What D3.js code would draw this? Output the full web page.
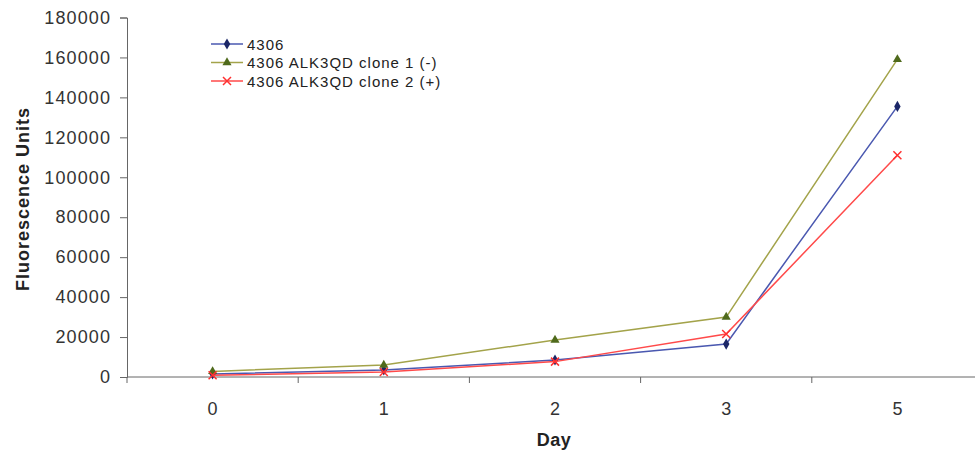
<!DOCTYPE html>
<html lang="en">
<head>
<meta charset="UTF-8">
<title>Fluorescence by Day</title>
<script src="https://d3js.org/d3.v7.min.js"></script>
<style>
    body { margin: 0; background: #ffffff; }
    svg { display: block; font-family: Arial, 'Liberation Sans', sans-serif; }
    .tick text { fill: #333; }
</style>
</head>
<body>
<svg id="chart" width="975" height="455"></svg>
<script>
    // chart data
    const days = ["0", "1", "2", "3", "5"];
    const parental = [1500, 3500, 8500, 16500, 135500];
    const clone1 = [2800, 6000, 18500, 30000, 159000];
    const clone2 = [900, 2500, 7700, 21500, 111000];
    const seriesNames = ["4306", "4306 ALK3QD clone 1 (-)", "4306 ALK3QD clone 2 (+)"];
    const yTicks = [0, 20000, 40000, 60000, 80000, 100000, 120000, 140000, 160000, 180000];

    const series = [
        { name: seriesNames[0], values: parental, line: "#4a58b0", mark: "#1c2768", shape: "diamond" },
        { name: seriesNames[1], values: clone1, line: "#a3a34a", mark: "#4f6a1c", shape: "triangle" },
        { name: seriesNames[2], values: clone2, line: "#ff4a4a", mark: "#ff3030", shape: "cross" }
    ];

    const svg = d3.select("#chart");
    const plotLeft = 127, plotRight = 983, plotTop = 17.5, plotBottom = 377;

    const x = d3.scaleBand().domain(days).range([plotLeft, plotRight]);
    const y = d3.scaleLinear().domain([0, 180000]).range([plotBottom, plotTop]);

    // y axis
    const yAxis = svg.append("g")
        .attr("transform", `translate(${plotLeft},0)`)
        .call(d3.axisLeft(y).tickValues(yTicks).tickFormat(d3.format("d")).tickSize(7).tickPadding(9));
    yAxis.selectAll("text").style("font-size", "18px").style("letter-spacing", "1.1px");
    yAxis.selectAll("line, path").attr("stroke", "#666");

    // x axis: ticks between categories
    const xAxis = svg.append("g").attr("transform", `translate(0,${plotBottom})`);
    xAxis.append("line").attr("x1", plotLeft).attr("x2", plotRight).attr("stroke", "#666");
    const bounds = days.map(d => x(d)).concat([plotRight]);
    xAxis.selectAll(".xt").data(bounds).enter().append("line")
        .attr("x1", d => d).attr("x2", d => d)
        .attr("y1", 0).attr("y2", 6)
        .attr("stroke", "#666");
    xAxis.selectAll(".xl").data(days).enter().append("text")
        .attr("x", d => x(d) + x.bandwidth() / 2)
        .attr("y", 38)
        .attr("text-anchor", "middle")
        .attr("fill", "#333")
        .style("font-size", "18px")
        .text(d => d);

    // axis titles
    svg.append("text")
        .attr("x", 554).attr("y", 446)
        .attr("text-anchor", "middle")
        .style("font-size", "18px").style("font-weight", "bold")
        .style("letter-spacing", "0.5px")
        .attr("fill", "#222")
        .text("Day");
    svg.append("text")
        .attr("transform", "translate(29,199) rotate(-90)")
        .attr("text-anchor", "middle")
        .style("font-size", "18px").style("font-weight", "bold")
        .style("letter-spacing", "1px")
        .attr("fill", "#222")
        .text("Fluorescence Units");

    const cx = d => x(d) + x.bandwidth() / 2;

    function drawMarker(g, shape, color) {
        if (shape === "diamond") {
            g.append("path").attr("d", d3.symbol(d3.symbolDiamond, 36)()).attr("fill", color);
        } else if (shape === "triangle") {
            g.append("path").attr("d", d3.symbol(d3.symbolTriangle, 36)()).attr("fill", color);
        } else {
            g.append("path").attr("d", "M-4,-4L4,4M-4,4L4,-4").attr("stroke", color).attr("stroke-width", 1.5);
        }
    }

    const line = d3.line().x((d, i) => cx(days[i])).y(d => y(d));

    series.forEach(s => {
        svg.append("path")
            .datum(s.values)
            .attr("d", line)
            .attr("fill", "none")
            .attr("stroke", s.line)
            .attr("stroke-width", 1.5);
        s.values.forEach((v, i) => {
            const g = svg.append("g").attr("transform", `translate(${cx(days[i])},${y(v)})`);
            drawMarker(g, s.shape, s.mark);
        });
    });

    // legend
    const legend = svg.append("g").attr("transform", "translate(211,44)");
    series.forEach((s, i) => {
        const row = legend.append("g").attr("transform", `translate(0,${i * 18.5})`);
        row.append("line").attr("x1", 0).attr("x2", 32).attr("stroke", s.line).attr("stroke-width", 1.5);
        const m = row.append("g").attr("transform", "translate(16,0)");
        drawMarker(m, s.shape, s.mark);
        row.append("text")
            .attr("x", 36).attr("y", 5.5)
            .attr("fill", "#222")
            .style("font-size", "15px")
            .style("letter-spacing", "1px")
            .text(s.name);
    });
</script>
</body>
</html>
